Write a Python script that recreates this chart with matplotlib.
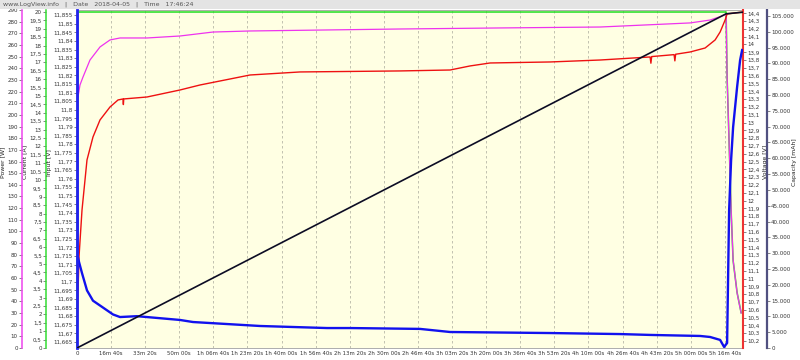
import numpy as np
import matplotlib.pyplot as plt
from matplotlib.patches import Rectangle

# time stamps in seconds
t_power = [29, 88, 176, 381, 675, 968, 1261, 2053, 3021, 3989, 5074, 9474,
           12407, 15340, 17980, 18567, 18919, 19036, 19065, 19124, 19182,
           19241, 19358, 19476]
power_w = [215.4, 225.7, 232.5, 247.1, 258.3, 264.3, 266.0, 266.0, 267.7,
           271.1, 272.0, 273.7, 274.6, 275.4, 278.9, 281.4, 284.9, 286.6,
           232.5, 175.9, 118.4, 75.5, 47.2, 30.0]

t_current = [0, 20, 19036, 19065, 19124, 19182, 19241, 19358, 19476]
current_a = [0, 20.0, 20.0, 16.1, 12.2, 8.2, 5.2, 3.3, 2.1]

t_input = [0, 15, 59, 147, 293, 469, 763, 1056, 1261, 1760, 3021, 3402, 5367,
           7332, 8007, 10060, 10941, 13874, 15926, 16807, 18273, 18567, 18860,
           18977, 19065, 19094, 19124, 19182, 19241, 19358, 19446, 19505]
input_v = [11.858, 11.7155, 11.7115, 11.705, 11.695, 11.689, 11.685, 11.681,
           11.6795, 11.680, 11.6778, 11.6766, 11.6743, 11.6731, 11.6731,
           11.6726, 11.6708, 11.6702, 11.6696, 11.6691, 11.6685, 11.6679,
           11.6662, 11.6621, 11.6644, 11.7028, 11.7417, 11.7707, 11.7899,
           11.8132, 11.8288, 11.8347]

t_voltage = [0, 29, 59, 147, 293, 469, 675, 968, 1203, 1349, 1360, 1371, 2053,
             3021, 3608, 5074, 6541, 9474, 10941, 11527, 12114, 13874, 15340,
             16807, 16830, 16853, 17510, 17533, 17556, 17980, 18420, 18713,
             18860, 19007, 19065, 19531]
voltage_v = [10.17, 10.815, 11.277, 11.879, 12.52, 12.815, 13.033, 13.199,
             13.289, 13.302, 13.23, 13.302, 13.327, 13.417, 13.481, 13.609,
             13.648, 13.661, 13.673, 13.725, 13.763, 13.776, 13.801, 13.84,
             13.76, 13.845, 13.87, 13.79, 13.875, 13.904, 13.955, 14.058,
             14.16, 14.314, 14.391, 14.417]

t_capacity = [0, 19036, 19531]
capacity_mah = [0, 105700, 106200]

x_ticks = list(range(0, 19001, 1000))


def dec(v):
    s = f'{v:.3f}'.rstrip('0').rstrip('.')
    return s.replace('.', ',')


def hms(sec):
    h, rest = divmod(int(sec), 3600)
    m, s = divmod(rest, 60)
    if sec == 0:
        return '0'
    if h == 0:
        return f'{m}m {s:02d}s'
    return f'{h}h {m:02d}m {s:02d}s'


fig = plt.figure(figsize=(8, 3.6), dpi=100)
fig.patch.set_facecolor('white')
fig.patches.append(Rectangle((0, 351 / 360), 1, 9 / 360, transform=fig.transFigure,
                             facecolor='#e4e4e4', edgecolor='none'))
fig.text(0.004, 355.5 / 360, 'www.LogView.info   |   Date   2018-04-05   |   Time   17:46:24',
         fontsize=4.5, color='#555555', va='center')

L, R = 77 / 800, 743 / 800
B, T = 12 / 360, 350 / 360
ax = fig.add_axes([L, B, R - L, T - B])
ax.set_facecolor('#ffffe3')
ax.set_xlim(0, 19531)
ax.set_xticks(x_ticks)
ax.set_xticklabels([hms(v) for v in x_ticks], fontsize=3.9, color='#333333')
ax.tick_params(axis='x', length=0, pad=2)
ax.set_yticks([])
for v in x_ticks[1:]:
    ax.axvline(v, color='#b8b8a8', lw=0.6, ls=(0, (3, 3)), zorder=0)
for s in ['left', 'right']:
    ax.spines[s].set_visible(False)
for s in ['top', 'bottom']:
    ax.spines[s].set_color('#a0a0a0')
    ax.spines[s].set_linewidth(0.6)


def make_axis(side, pos, color, lim, ticks, labels, title, label_x, lw):
    a = ax.twinx()
    for s in a.spines.values():
        s.set_visible(False)
    sp = a.spines[side]
    sp.set_visible(True)
    sp.set_position(('axes', pos))
    sp.set_color(color)
    sp.set_linewidth(lw)
    a.yaxis.set_ticks_position(side)
    a.yaxis.set_label_position(side)
    a.set_ylim(*lim)
    a.set_yticks(ticks)
    a.set_yticklabels(labels)
    a.tick_params(axis='y', labelsize=4.0, length=2, width=0.5, pad=1,
                  color='#555555', labelcolor='#333333')
    a.set_ylabel(title, fontsize=4.4, color='#222222')
    a.yaxis.set_label_coords(label_x, 0.55)
    return a


def px(x):
    return (x - 77) / 666


cur_ticks = np.round(np.arange(0, 20.01, 0.5), 1)
ax_cur = make_axis('left', px(46), '#33dd33', (0, 20.12), cur_ticks,
                   [dec(v) for v in cur_ticks], 'Current [A]', px(27), 1.1)
pow_ticks = list(range(0, 291, 10))
ax_pow = make_axis('left', px(22), '#ee44ee', (0, 290), pow_ticks,
                   [str(v) for v in pow_ticks], 'Power [W]', px(5), 1.1)
volt_ticks = np.round(np.arange(10.2, 14.41, 0.1), 1)
ax_volt = make_axis('right', 1.0, '#ee3333', (10.11, 14.442), volt_ticks,
                    [dec(v) for v in volt_ticks], 'Voltage [V]', px(763), 1.5)
in_ticks = np.round(np.arange(11.665, 11.8551, 0.005), 3)
ax_in = make_axis('left', 0.0, '#2222ee', (11.6615, 11.858), in_ticks,
                  [dec(v) for v in in_ticks], 'Input [V]', px(52), 2.0)
cap_ticks = list(range(0, 105001, 5000))
ax_cap = make_axis('right', px(767), '#505080', (0, 106900), cap_ticks,
                   [f'{v:,}'.replace(',', '.') for v in cap_ticks],
                   'Capacity [mAh]', px(792), 1.6)

ax_cur.plot(t_current, current_a, color='#22dd22', lw=1.1, clip_on=False)
ax_pow.plot(t_power, power_w, color='#ee33ee', lw=0.9)
ax_volt.plot(t_voltage, voltage_v, color='#ee1111', lw=1.0)
ax_in.plot(t_input, input_v, color='#1111ee', lw=1.7)
ax_cap.plot(t_capacity, capacity_mah, color='#0c0c24', lw=1.2)

fig.savefig('out.png', dpi=100)
